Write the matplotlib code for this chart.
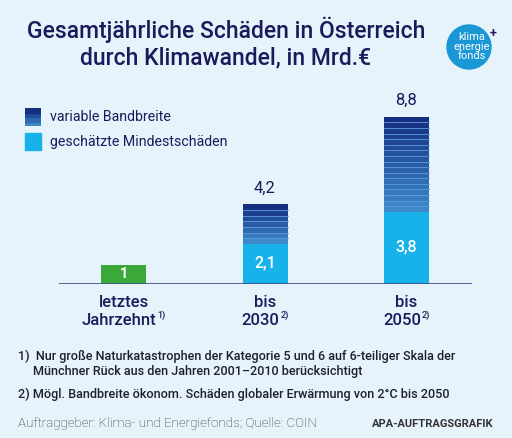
import matplotlib.pyplot as plt
import matplotlib.patches as mpatches
import numpy as np

# data (Mrd. Euro)
categories = ["letztes\nJahrzehnt", "bis\n2030", "bis\n2050"]
footnote_marks = ["1)", "2)", "2)"]
minimum = [1.0, 2.1, 3.8]      # geschätzte Mindestschäden
total = [None, 4.2, 8.8]       # obere Grenze der Bandbreite
min_labels = ["1", "2,1", "3,8"]
total_labels = [None, "4,2", "8,8"]

bg = "#e7f3fb"
navy = "#1b1b5c"
green = "#3ba83a"
light_blue = "#17b2ea"
band_top = np.array([0x15, 0x30, 0x80]) / 255
band_bottom = np.array([0x3d, 0x88, 0xc9]) / 255

plt.rcParams['font.family'] = ['Roboto', 'DejaVu Sans']

fig = plt.figure(figsize=(5.12, 4.38), dpi=100, facecolor=bg)
ax = fig.add_axes([59 / 512, 1 - 284 / 438, 413 / 512, 184 / 438])
ax.set_facecolor(bg)
ax.set_xlim(-0.456, 2.463)
ax.set_ylim(0, 184 / 19)
width = 0.318


def band_color(t):
    c = band_top * (1 - t) + band_bottom * t
    return tuple(c)


for i, (m, t) in enumerate(zip(minimum, total)):
    if t is None:
        ax.bar(i, m, width=width, color=green, zorder=2)
        ax.text(i, m / 2, min_labels[i], color="white", ha="center",
                va="center", fontsize=10.5, fontweight="bold")
        continue
    ax.bar(i, m, width=width, color=light_blue, zorder=2)
    ax.text(i, m * 0.5 + 0.05, min_labels[i], color="white", ha="center",
            va="center", fontsize=11.5, fontweight="medium")
    # striped band from minimum to total
    n = int(round((t - m) / 0.3))
    edges = np.linspace(m, t, n + 1)
    for k in range(n):
        frac = 1 - k / max(n - 1, 1)
        ax.bar(i, edges[k + 1] - edges[k], bottom=edges[k], width=width,
               color=band_color(frac), zorder=2)
        if k > 0:
            ax.plot([i - width / 2, i + width / 2], [edges[k], edges[k]],
                    color="#5b9ed8", lw=0.6, zorder=3)
    ax.text(i, t + 0.45, total_labels[i], color=navy, ha="center",
            va="bottom", fontsize=12)

ax.axhline(0, color="#3a4f8c", lw=1.2, zorder=3)
for s in ax.spines.values():
    s.set_visible(False)
ax.set_xticks([])
ax.set_yticks([])

# category labels with superscript footnote marks
renderer = fig.canvas.get_renderer()
for i, lab in enumerate(categories):
    first, second = lab.split("\n")
    ax.text(i, -0.95, first, ha="center", va="center", color=navy,
            fontsize=12, fontweight="medium")
    t2 = ax.text(i - 0.03, -1.9, second, ha="center", va="center", color=navy,
                 fontsize=12, fontweight="medium")
    bb = t2.get_window_extent(renderer=renderer)
    xr, yr = fig.transFigure.inverted().transform((bb.x1, bb.y1))
    fig.text(xr + 0.001, yr + 0.004, footnote_marks[i], ha="left", va="top",
             color=navy, fontsize=6.5, fontweight="medium")

# title
fig.text(226 / 512, 1 - 30 / 438, "Gesamtjährliche Schäden in Österreich",
         ha="center", va="center", color=navy, fontsize=16.5, fontweight="medium")
fig.text(226 / 512, 1 - 58 / 438, "durch Klimawandel, in Mrd.€",
         ha="center", va="center", color=navy, fontsize=16.5, fontweight="medium")

# logo
circ = mpatches.Ellipse((469 / 512, 1 - 47 / 438), 44 / 512, 44 / 438,
                        transform=fig.transFigure, color="#1a98d5")
fig.patches.append(circ)
for txt, yy in [("klima", 37), ("energie", 47), ("fonds", 56)]:
    fig.text(472 / 512, 1 - yy / 438, txt, ha="center", va="center",
             color="white", fontsize=8)
fig.text(493 / 512, 1 - 34 / 438, "+", ha="center", va="center",
         color=navy, fontsize=9, fontweight="bold")

# legend
leg_ax = fig.add_axes([25 / 512, 1 - 126 / 438, 16 / 512, 18 / 438])
leg_ax.set_xlim(0, 1)
leg_ax.set_ylim(0, 1)
leg_ax.axis("off")
for k in range(4):
    leg_ax.add_patch(mpatches.Rectangle((0, k / 4), 1, 0.25,
                                        color=band_color(1 - k / 3)))
fig.patches.append(mpatches.Rectangle((25 / 512, 1 - 150 / 438), 16 / 512,
                                      17 / 438, transform=fig.transFigure,
                                      color=light_blue))
fig.text(50 / 512, 1 - 117 / 438, "variable Bandbreite", ha="left",
         va="center", color=navy, fontsize=10.2)
fig.text(50 / 512, 1 - 142 / 438, "geschätzte Mindestschäden", ha="left",
         va="center", color=navy, fontsize=10.2)

# footnotes
fn = "#1f1f33"
fig.text(18 / 512, 1 - 356 / 438,
         "1)  Nur große Naturkatastrophen der Kategorie 5 und 6 auf 6-teiliger Skala der",
         ha="left", va="center", color=fn, fontsize=9.1, fontweight="medium")
fig.text(33 / 512, 1 - 372 / 438,
         "Münchner Rück aus den Jahren 2001–2010 berücksichtigt",
         ha="left", va="center", color=fn, fontsize=9.1, fontweight="medium")
fig.text(18 / 512, 1 - 394 / 438,
         "2) Mögl. Bandbreite ökonom. Schäden globaler Erwärmung von 2°C bis 2050",
         ha="left", va="center", color=fn, fontsize=9.1, fontweight="medium")

fig.text(18 / 512, 1 - 424 / 438,
         "Auftraggeber: Klima- und Energiefonds; Quelle: COIN",
         ha="left", va="center", color="#333333", fontsize=9.6, fontweight="light")
fig.text(493 / 512, 1 - 424 / 438, "APA-AUFTRAGSGRAFIK", ha="right",
         va="center", color="#333333", fontsize=8, fontweight="bold")

fig.savefig("out.png", dpi=100, facecolor=bg)
